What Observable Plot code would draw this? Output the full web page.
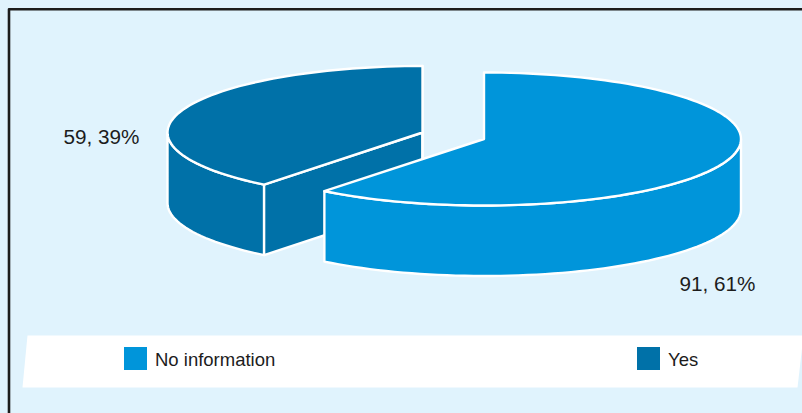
<!DOCTYPE html>
<html>
<head>
<meta charset="utf-8">
<script src="https://cdn.jsdelivr.net/npm/d3@7"></script>
<script src="https://cdn.jsdelivr.net/npm/@observablehq/plot@0.6"></script>
<style>
html,body{margin:0;padding:0;background:#e0f3fd;overflow:hidden}
svg{display:block}
</style>
</head>
<body>
<div id="chart"></div>
<script>
const categories = ["No information", "Yes"];
const counts = [91, 59];
const percents = [61, 39];

const colors = ["#0095da", "#0071a8"];
const bg = "#e0f3fd", ink = "#1c1c1c";
const W = 802, H = 413;

// pie layout: each slice has its own exploded centre
const centers = [[483.5, 138.5], [422, 132]];
const rx = [257, 255], ry = 66.5, depth = 70.5;
const labelPos = [[717, 284], [101, 137]];
const swatchX = [124, 637], swatchY = 347, swatchSize = 23;

const total = d3.sum(counts);
const sweep = counts[0] / total * 360;
const rad = d => d * Math.PI / 180;

function pt(i, deg, dz = 0) {
  const [cx, cy] = centers[i];
  return {x: cx + rx[i] * Math.sin(rad(deg)), y: cy - ry * Math.cos(rad(deg)) + dz};
}
function arc(i, a0, a1, dz = 0) {
  const n = Math.max(2, Math.round(Math.abs(a1 - a0) / 2));
  return d3.range(n + 1).map(k => pt(i, a0 + (a1 - a0) * k / n, dz));
}
function center(i, dz = 0) { return {x: centers[i][0], y: centers[i][1] + dz}; }

const wedge = (i, a0, a1) => [center(i), ...arc(i, a0, a1)];
const wall = (i, a0, a1) => [...arc(i, a0, a1), ...arc(i, a1, a0, depth)];
const face = (i, deg) => [center(i), pt(i, deg), pt(i, deg, depth), center(i, depth)];

const shape = (pts, fill, stroke = "white", strokeWidth = 2.4) =>
  Plot.line(pts, {x: "x", y: "y", curve: "linear-closed", fill, stroke, strokeWidth, strokeLinejoin: "round"});

const band = [{x: 27, y: 335}, {x: 803, y: 335}, {x: 797, y: 387}, {x: 22, y: 387}];

const chart = Plot.plot({
  width: W, height: H,
  margin: 0,
  x: {domain: [0, W], range: [0, W], axis: null},
  y: {domain: [0, H], range: [0, H], axis: null},
  style: {background: bg, fontFamily: "'Liberation Sans', Arial, sans-serif", overflow: "hidden"},
  marks: [
    // frame
    Plot.line([{x: 8.5, y: H}, {x: 8.5, y: 8.7}, {x: W, y: 8.7}], {x: "x", y: "y", stroke: ink, strokeWidth: 2.6}),
    // "Yes" slice (back-left)
    shape(wall(1, sweep, 270), colors[1]),
    shape(face(1, sweep), colors[1]),
    shape(face(1, 360), colors[1]),
    shape(wedge(1, sweep, 360), colors[1]),
    // "No information" slice (front-right)
    shape(wall(0, 90, sweep), colors[0]),
    shape(wedge(0, 0, sweep), colors[0]),
    // data labels
    Plot.text(categories, {
      x: (d, i) => labelPos[i][0], y: (d, i) => labelPos[i][1],
      text: (d, i) => `${counts[i]}, ${percents[i]}%`,
      fontSize: 20.7, fill: ink, textAnchor: "middle", lineAnchor: "middle"
    }),
    // legend
    shape(band, "white", "none", 0),
    Plot.rect(categories, {
      x1: (d, i) => swatchX[i], x2: (d, i) => swatchX[i] + swatchSize,
      y1: swatchY, y2: swatchY + swatchSize,
      fill: (d, i) => colors[i]
    }),
    Plot.text(categories, {
      x: (d, i) => swatchX[i] + swatchSize + 7.5, y: swatchY + swatchSize / 2 + 1,
      text: d => d, fontSize: 18.5, fill: ink, textAnchor: "start", lineAnchor: "middle"
    })
  ]
});
document.getElementById("chart").append(chart);
</script>
</body>
</html>
